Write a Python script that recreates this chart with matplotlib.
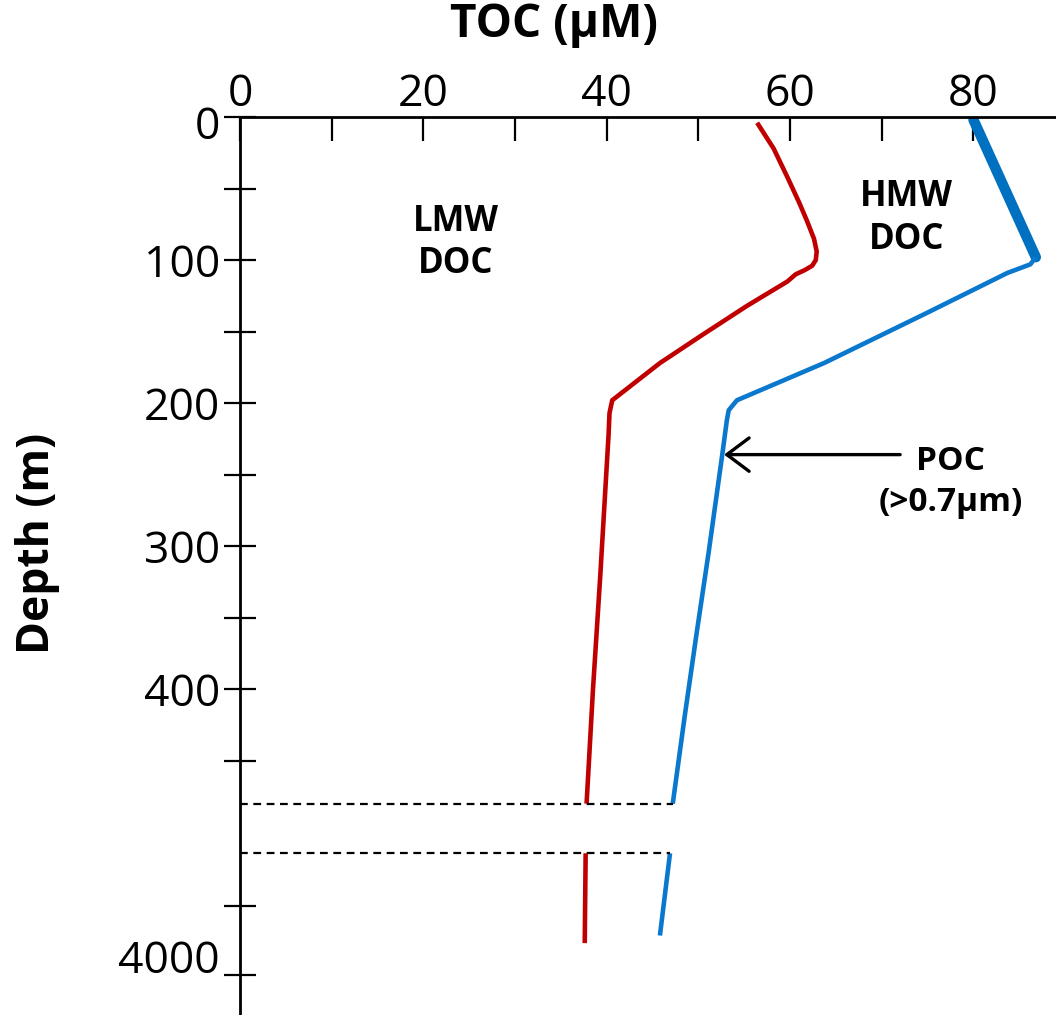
import matplotlib
matplotlib.use("Agg")
import matplotlib.pyplot as plt
import matplotlib.transforms as mtransforms
from matplotlib.scale import FuncScale
from matplotlib.ticker import FixedLocator, NullFormatter
import numpy as np

# TOC profiles (x = TOC in uM, depth in m)
red_x = [56.4, 58.2, 59.7, 61.0, 61.8, 62.6, 62.9, 62.8, 62.4, 61.6, 60.6, 59.7,
         55.3, 50.5, 45.8, 40.6, 40.3, 40.2, 39.3, 38.5, 37.8]
red_depth = [4, 22, 42, 60, 72, 85, 94, 100, 104, 107, 110, 115,
             132, 152, 172, 198, 207, 222, 320, 400, 480]
red_deep_x = [37.7, 37.6]
red_deep_depth = [3120, 3770]

blue_thick_x = [80.0, 86.8]
blue_thick_depth = [2, 98]
blue_x = [86.8, 86.2, 83.7, 74.9, 63.7, 54.2, 53.3, 53.1, 52.6, 51.1, 49.8, 48.5, 47.2]
blue_depth = [98, 103, 109, 137, 172, 198, 205, 212, 236, 305, 361, 419, 480]
blue_deep_x = [46.9, 45.8]
blue_deep_depth = [3120, 3715]

x_major = [0, 20, 40, 60, 80]
x_minor = [10, 30, 50, 70]
y_major = [0, 100, 200, 300, 400, 4000]
y_minor = [50, 150, 250, 350, 450, 3500]

top_break = 480
bottom_break = 3120

# broken depth axis: 0-480 m linear, then a short gap, then a compressed deep part
scale_depth = [-1000, top_break, bottom_break, 10000]
scale_pos = [-1000, top_break, 514.7, 514.7 + (10000 - bottom_break) * 0.0966]


def fwd(d):
    return np.interp(d, scale_depth, scale_pos)


def inv(p):
    return np.interp(p, scale_pos, scale_depth)


plt.rcParams['font.family'] = ['Open Sans', 'DejaVu Sans']

fig = plt.figure(figsize=(10.56, 10.15), dpi=100)
ax = fig.add_axes([240 / 1056, 0.0, 1 - 240 / 1056, 1 - 117 / 1015])
ax.set_yscale(FuncScale(ax, (fwd, inv)))

red = '#c00000'
blue = '#0a78cc'

ax.plot(red_x, red_depth, color=red, lw=3.3, solid_capstyle='butt')
ax.plot(red_deep_x, red_deep_depth, color=red, lw=3.3, solid_capstyle='butt')
ax.plot(blue_thick_x, blue_thick_depth, color='#0070c0', lw=7.5, solid_capstyle='round')
ax.plot(blue_x, blue_depth, color=blue, lw=3.3, solid_capstyle='butt')
ax.plot(blue_deep_x, blue_deep_depth, color=blue, lw=3.3, solid_capstyle='butt')

# dashed lines marking the depth break
ax.plot([0, blue_x[-1]], [top_break, top_break], color='black', lw=1.6,
        dashes=(3.5, 2.5), clip_on=False)
ax.plot([0, blue_deep_x[0]], [bottom_break, bottom_break], color='black', lw=1.6,
        dashes=(3.5, 2.5), clip_on=False)

ax.set_xlim(0, 89.0)
ax.set_ylim(4290, 0)

ax.spines['right'].set_visible(False)
ax.spines['bottom'].set_visible(False)
ax.spines['top'].set_linewidth(2)
ax.spines['left'].set_linewidth(2)

ax.xaxis.set_major_locator(FixedLocator(x_major))
ax.xaxis.set_minor_locator(FixedLocator(x_minor))
ax.yaxis.set_major_locator(FixedLocator(y_major))
ax.yaxis.set_minor_locator(FixedLocator(y_minor))
ax.yaxis.set_major_formatter(plt.FuncFormatter(lambda v, p: f"{v:.0f}"))
ax.yaxis.set_minor_formatter(NullFormatter())

ax.xaxis.tick_top()
ax.tick_params(axis='x', which='both', direction='in', length=17, width=1.6,
               top=True, bottom=False, labeltop=True, labelbottom=False,
               labelsize=32, pad=0)
ax.tick_params(axis='y', which='both', direction='inout', length=23, width=1.6,
               labelsize=32, pad=3)

# the 4000 label sits a little above its tick in the original, the 0 a bit below
lab4000 = ax.yaxis.get_major_ticks()[-1].label1
lab4000.set_transform(lab4000.get_transform() +
                      mtransforms.ScaledTranslation(0, 0.19, fig.dpi_scale_trans))
lab0 = ax.yaxis.get_major_ticks()[0].label1
lab0.set_transform(lab0.get_transform() +
                   mtransforms.ScaledTranslation(0, -0.05, fig.dpi_scale_trans))

ax.set_xlabel('TOC (µM)', fontsize=33, fontweight='bold', va='center')
ax.xaxis.set_label_position('top')
ax.xaxis.set_label_coords((554 - 240) / 816, 1 + 80 / 898)
ax.set_ylabel('Depth (m)', fontsize=32, fontweight='bold', va='center')
ax.yaxis.set_label_coords((38 - 240) / 816, 1 - 426 / 898)

ax.text(23.5, 88, 'LMW\nDOC', fontsize=25, fontweight='bold', ha='center',
        va='center', linespacing=1.25)
ax.text(72.7, 71, 'HMW\nDOC', fontsize=25, fontweight='bold', ha='center',
        va='center', linespacing=1.25)
ax.text(77.5, 255, 'POC\n(>0.7µm)', fontsize=24, fontweight='bold', ha='center',
        va='center', linespacing=1.3)
ax.annotate('', xy=(52.8, 236), xytext=(72.0, 236),
            arrowprops=dict(arrowstyle='->,head_length=0.4,head_width=0.3',
                            lw=2.4, color='black', mutation_scale=40,
                            shrinkA=0, shrinkB=0))

fig.savefig('out.png', dpi=100)
